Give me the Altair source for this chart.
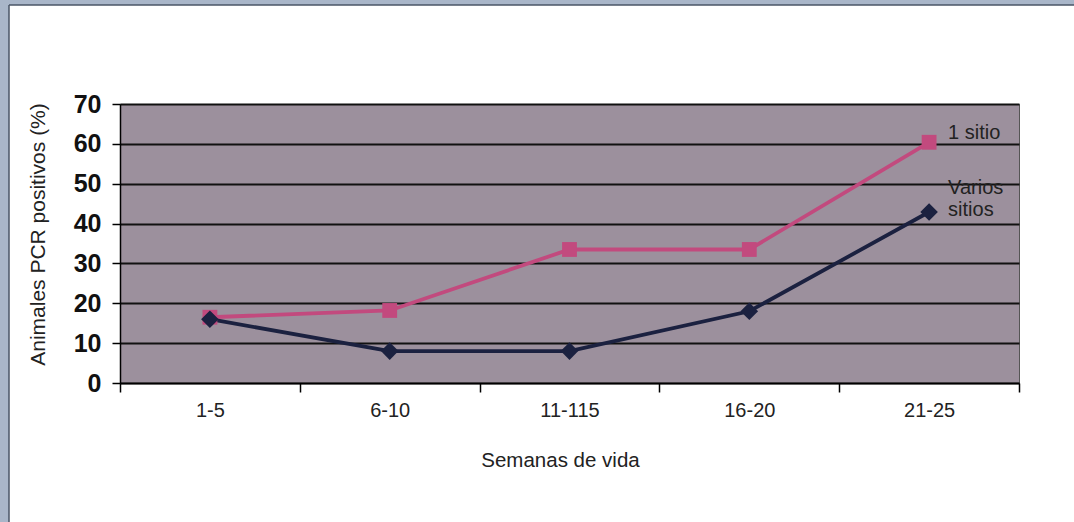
import altair as alt
import pandas as pd

weeks = ["1-5", "6-10", "11-115", "16-20", "21-25"]
uno_sitio = [16.5, 18.2, 33.5, 33.5, 60.4]
varios_sitios = [16.0, 8.0, 8.0, 18.0, 42.9]
series_names = ["1 sitio", "Varios sitios"]
series_colors = ["#c24a7e", "#1b2140"]
series_shapes = ["square", "diamond"]
series_sizes = [220, 310]
y_ticks = [0, 10, 20, 30, 40, 50, 60, 70]

label_text = ["1 sitio", "Varios", "sitios"]
label_y = [62.8, 48.9, 43.4]
label_week = ["21-25", "21-25", "21-25"]

df = pd.DataFrame({
    "week": weeks * 2,
    "value": uno_sitio + varios_sitios,
    "series": [series_names[0]] * len(weeks) + [series_names[1]] * len(weeks),
})
labels = pd.DataFrame({"week": label_week, "value": label_y, "text": label_text})

FONT = "Liberation Sans"

x_enc = alt.X(
    "week:N", sort=weeks,
    scale=alt.Scale(type="band", paddingInner=0, paddingOuter=0),
    axis=alt.Axis(
        title="Semanas de vida", labelAngle=0, tickBand="extent",
        grid=False, domainColor="black", domainWidth=1.5,
        tickColor="black", tickWidth=1.5, tickSize=9,
        labelFontSize=20, labelColor="#222", labelPadding=8, labelFont=FONT,
        titleFontSize=20.5, titleFontWeight="normal", titleColor="#222",
        titleFont=FONT, titlePadding=30, titleX=440,
    ),
)
y_enc = alt.Y(
    "value:Q",
    scale=alt.Scale(domain=[0, 70], nice=False),
    axis=alt.Axis(
        title="Animales PCR positivos (%)", values=y_ticks,
        grid=True, gridColor="#111", gridWidth=2, gridOpacity=1,
        domainColor="black", domainWidth=1.5,
        tickColor="black", tickWidth=1.5, tickSize=8,
        labelFontSize=25, labelFontWeight="bold", labelColor="#111",
        labelPadding=11, labelFont=FONT, labelOverlap=False,
        titleFontSize=21, titleFontWeight="normal", titleColor="#222",
        titleFont=FONT, titlePadding=25, titleY=130,
    ),
)
color_enc = alt.Color("series:N", scale=alt.Scale(domain=series_names, range=series_colors), legend=None)
shape_enc = alt.Shape("series:N", scale=alt.Scale(domain=series_names, range=series_shapes), legend=None)
size_enc = alt.Size("series:N", scale=alt.Scale(domain=series_names, range=series_sizes), legend=None)

base = alt.Chart(df)
lines = base.mark_line(strokeWidth=3.8).encode(x=x_enc, y=y_enc, color=color_enc, detail="series:N")
points = base.mark_point(filled=True, opacity=1).encode(
    x=x_enc, y=y_enc, color=color_enc, shape=shape_enc, size=size_enc
)
texts = alt.Chart(labels).mark_text(
    align="left", baseline="middle", dx=19, fontSize=20, font=FONT, color="#222"
).encode(x=x_enc, y=y_enc, text="text:N")

deco = pd.DataFrame({"k": [0]})
left_strip = alt.Chart(deco).mark_rect(color="#a9b6c9").encode(
    x=alt.value(-120), x2=alt.value(-111), y=alt.value(-104), y2=alt.value(418)
)
left_line = alt.Chart(deco).mark_rule(color="#4a5566", strokeWidth=1.5).encode(
    x=alt.value(-111), y=alt.value(-99), y2=alt.value(418)
)
top_strip = alt.Chart(deco).mark_rect(color="#a9b6c9").encode(
    x=alt.value(-120), x2=alt.value(954), y=alt.value(-104), y2=alt.value(-99)
)
top_line = alt.Chart(deco).mark_rule(color="#4a5566", strokeWidth=1.5).encode(
    x=alt.value(-111), x2=alt.value(954), y=alt.value(-99)
)

chart = alt.layer(lines, points, texts, left_strip, top_strip, left_line, top_line).properties(
    width=899, height=279,
    autosize=alt.AutoSizeParams(type="none"),
    padding={"left": 120, "top": 104, "right": 55, "bottom": 139},
    view=alt.ViewBackground(fill="#9c909d", stroke="#555", strokeWidth=1),
).configure_view(
    fill="#9c909d", stroke="#555", strokeWidth=1
).configure(background="white")

chart.save("out.html", embed_options={"renderer": "svg", "actions": False})
